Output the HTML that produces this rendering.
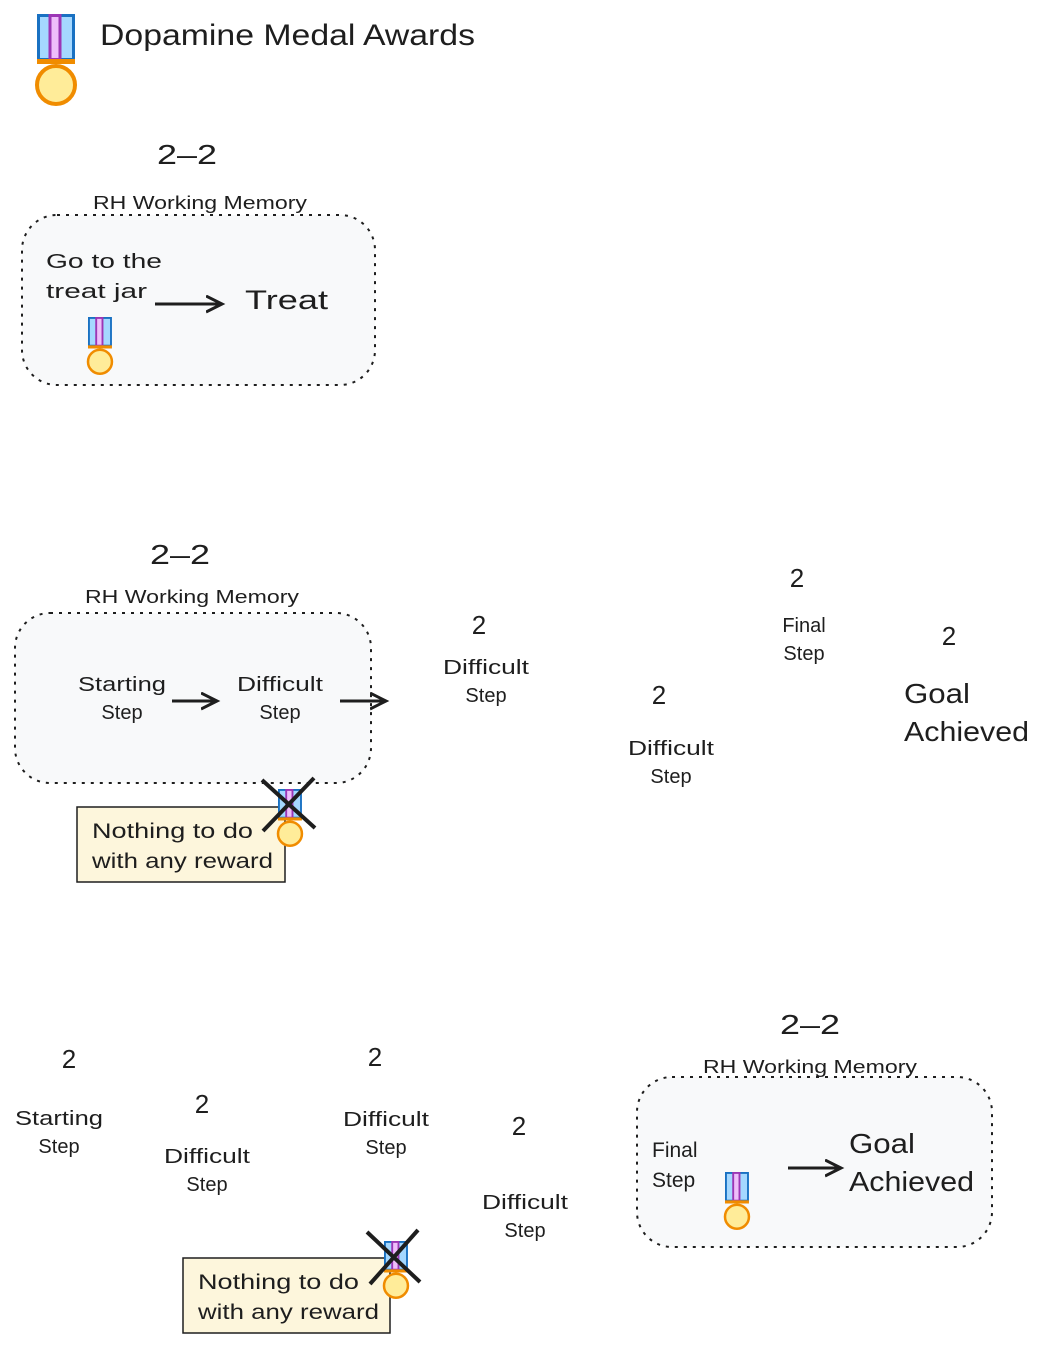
<!DOCTYPE html>
<html><head><meta charset="utf-8"><style>
body{margin:0;background:#fff}
svg{display:block}
text{font-family:"Liberation Sans",sans-serif;fill:#1e1e1e}
</style></head><body>
<svg width="1044" height="1349" viewBox="0 0 1044 1349" xmlns="http://www.w3.org/2000/svg">
<defs>
<g id="medal">
<rect x="1.5" y="1.5" width="35" height="44" fill="#a5d8ff" stroke="#1971c2" stroke-width="3"/>
<rect x="13" y="1.5" width="10" height="44" fill="#eebefa" stroke="#9c36b5" stroke-width="3"/>
<rect x="0" y="45" width="38" height="5" fill="#f08c00"/>
<circle cx="19" cy="71" r="19" fill="#ffec99" stroke="#f08c00" stroke-width="4"/>
</g>
<marker id="ah" markerWidth="20" markerHeight="20" refX="16" refY="9" orient="auto" markerUnits="userSpaceOnUse">
<path d="M0,1 L16,9 L0,17" fill="none" stroke="#1e1e1e" stroke-width="3"/>
</marker>
</defs>

<use href="#medal" transform="translate(37,14)"/>
<text x="100" y="45" font-size="30" textLength="375" lengthAdjust="spacingAndGlyphs">Dopamine Medal Awards</text>

<!-- section 1 -->
<text x="157" y="164" font-size="28" textLength="60" lengthAdjust="spacingAndGlyphs">2–2</text>
<text x="93" y="209" font-size="18" textLength="214" lengthAdjust="spacingAndGlyphs">RH Working Memory</text>
<rect x="22" y="215" width="353" height="170" rx="35" fill="#f8f9fa" stroke="#1e1e1e" stroke-width="2" stroke-dasharray="3 6"/>
<text x="46" y="268" font-size="20" textLength="116" lengthAdjust="spacingAndGlyphs">Go to the</text>
<text x="46" y="298" font-size="20" textLength="101" lengthAdjust="spacingAndGlyphs">treat jar</text>
<line x1="155" y1="304" x2="222" y2="304" stroke="#1e1e1e" stroke-width="3" marker-end="url(#ah)"/>
<text x="245" y="309" font-size="27" textLength="83" lengthAdjust="spacingAndGlyphs">Treat</text>
<use href="#medal" transform="translate(88,317) scale(0.63)"/>

<!-- section 2 -->
<text x="150" y="564" font-size="28" textLength="60" lengthAdjust="spacingAndGlyphs">2–2</text>
<text x="85" y="603" font-size="18" textLength="214" lengthAdjust="spacingAndGlyphs">RH Working Memory</text>
<rect x="15" y="613" width="356" height="170" rx="35" fill="#f8f9fa" stroke="#1e1e1e" stroke-width="2" stroke-dasharray="3 6"/>
<text x="78" y="691" font-size="20" textLength="88" lengthAdjust="spacingAndGlyphs">Starting</text>
<text x="122" y="719" font-size="20" text-anchor="middle">Step</text>
<line x1="172" y1="701" x2="217" y2="701" stroke="#1e1e1e" stroke-width="3" marker-end="url(#ah)"/>
<text x="237" y="691" font-size="20" textLength="86" lengthAdjust="spacingAndGlyphs">Difficult</text>
<text x="280" y="719" font-size="20" text-anchor="middle">Step</text>
<line x1="340" y1="701" x2="386" y2="701" stroke="#1e1e1e" stroke-width="3" marker-end="url(#ah)"/>
<rect x="77" y="807" width="208" height="75" fill="#fdf6dc" stroke="#1e1e1e" stroke-width="1.5"/>
<text x="92" y="838" font-size="21" textLength="161" lengthAdjust="spacingAndGlyphs">Nothing to do</text>
<text x="92" y="868" font-size="21" textLength="181" lengthAdjust="spacingAndGlyphs">with any reward</text>
<use href="#medal" transform="translate(278,789) scale(0.63)"/>
<line x1="262" y1="780" x2="315" y2="828" stroke="#1e1e1e" stroke-width="4"/>
<line x1="263" y1="831" x2="314" y2="778" stroke="#1e1e1e" stroke-width="4"/>

<text x="479" y="634" font-size="26" text-anchor="middle">2</text>
<text x="443" y="674" font-size="20" textLength="86" lengthAdjust="spacingAndGlyphs">Difficult</text>
<text x="486" y="702" font-size="20" text-anchor="middle">Step</text>
<text x="659" y="704" font-size="26" text-anchor="middle">2</text>
<text x="628" y="755" font-size="20" textLength="86" lengthAdjust="spacingAndGlyphs">Difficult</text>
<text x="671" y="783" font-size="20" text-anchor="middle">Step</text>
<text x="797" y="587" font-size="26" text-anchor="middle">2</text>
<text x="804" y="632" font-size="20" text-anchor="middle">Final</text>
<text x="804" y="660" font-size="20" text-anchor="middle">Step</text>
<text x="949" y="645" font-size="26" text-anchor="middle">2</text>
<text x="904" y="703" font-size="28" textLength="66" lengthAdjust="spacingAndGlyphs">Goal</text>
<text x="904" y="741" font-size="28" textLength="125" lengthAdjust="spacingAndGlyphs">Achieved</text>

<!-- section 3 -->
<text x="69" y="1068" font-size="26" text-anchor="middle">2</text>
<text x="15" y="1125" font-size="20" textLength="88" lengthAdjust="spacingAndGlyphs">Starting</text>
<text x="59" y="1153" font-size="20" text-anchor="middle">Step</text>
<text x="202" y="1113" font-size="26" text-anchor="middle">2</text>
<text x="164" y="1163" font-size="20" textLength="86" lengthAdjust="spacingAndGlyphs">Difficult</text>
<text x="207" y="1191" font-size="20" text-anchor="middle">Step</text>
<text x="375" y="1066" font-size="26" text-anchor="middle">2</text>
<text x="343" y="1126" font-size="20" textLength="86" lengthAdjust="spacingAndGlyphs">Difficult</text>
<text x="386" y="1154" font-size="20" text-anchor="middle">Step</text>
<text x="519" y="1135" font-size="26" text-anchor="middle">2</text>
<text x="482" y="1209" font-size="20" textLength="86" lengthAdjust="spacingAndGlyphs">Difficult</text>
<text x="525" y="1237" font-size="20" text-anchor="middle">Step</text>

<rect x="183" y="1258" width="207" height="75" fill="#fdf6dc" stroke="#1e1e1e" stroke-width="1.5"/>
<text x="198" y="1289" font-size="21" textLength="161" lengthAdjust="spacingAndGlyphs">Nothing to do</text>
<text x="198" y="1319" font-size="21" textLength="181" lengthAdjust="spacingAndGlyphs">with any reward</text>
<use href="#medal" transform="translate(384,1241) scale(0.63)"/>
<line x1="367" y1="1232" x2="420" y2="1282" stroke="#1e1e1e" stroke-width="4"/>
<line x1="370" y1="1284" x2="418" y2="1230" stroke="#1e1e1e" stroke-width="4"/>

<text x="780" y="1034" font-size="28" textLength="60" lengthAdjust="spacingAndGlyphs">2–2</text>
<text x="703" y="1073" font-size="18" textLength="214" lengthAdjust="spacingAndGlyphs">RH Working Memory</text>
<rect x="637" y="1077" width="355" height="170" rx="35" fill="#f8f9fa" stroke="#1e1e1e" stroke-width="2" stroke-dasharray="3 6"/>
<text x="652" y="1157" font-size="21">Final</text>
<text x="652" y="1187" font-size="21">Step</text>
<use href="#medal" transform="translate(725,1172) scale(0.63)"/>
<line x1="788" y1="1168" x2="841" y2="1168" stroke="#1e1e1e" stroke-width="3" marker-end="url(#ah)"/>
<text x="849" y="1153" font-size="28" textLength="66" lengthAdjust="spacingAndGlyphs">Goal</text>
<text x="849" y="1191" font-size="28" textLength="125" lengthAdjust="spacingAndGlyphs">Achieved</text>
</svg>
</body></html>
